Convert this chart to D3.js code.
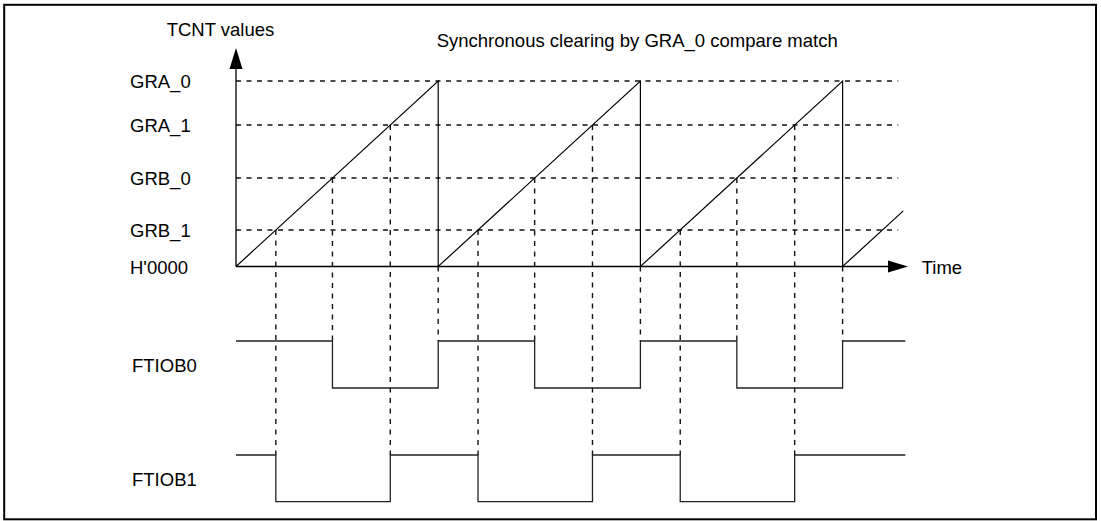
<!DOCTYPE html>
<html>
<head>
<meta charset="utf-8">
<script src="https://cdn.jsdelivr.net/npm/d3@7"></script>
<style>
  html, body { margin: 0; padding: 0; background: #fff; }
  svg { display: block; }
  text { font-family: "Liberation Sans", Arial, sans-serif; font-size: 18.5px; fill: #000; }
</style>
</head>
<body>
<svg id="chart" width="1101" height="521"></svg>
<script>
// ---- data ----
const registerNames = ["GRA_0", "GRA_1", "GRB_0", "GRB_1"];
const registerValues = [1.0, 0.763, 0.477, 0.197]; // fraction of GRA_0
const zeroLabel = "H'0000";
// TCNT counter (time in periods, value as fraction of GRA_0)
const counterTimes  = [0, 1, 1, 2, 2, 3, 3, 3.3];
const counterValues = [0, 1, 0, 1, 0, 1, 0, 0.3];
// output waveforms (transition times, level after transition)
const signalNames = ["FTIOB0", "FTIOB1"];
const ftiob0Times  = [0, 0.477, 1, 1.477, 2, 2.477, 3, 3.31];
const ftiob0Levels = [1, 0, 1, 0, 1, 0, 1, 1];
const ftiob1Times  = [0, 0.197, 0.763, 1.197, 1.763, 2.197, 2.763, 3.31];
const ftiob1Levels = [1, 0, 1, 0, 1, 0, 1, 1];
// compare-match instants: [time, register index, signal index the guide runs to]
const matchTimes    = [0.197, 0.477, 0.763, 1, 1.197, 1.477, 1.763, 2, 2.197, 2.477, 2.763, 3];
const matchRegister = [3, 2, 1, -1, 3, 2, 1, -1, 3, 2, 1, -1]; // -1 = H'0000 (clear)
const matchSignal   = [1, 0, 1, 0, 1, 0, 1, 0, 1, 0, 1, 0];
const titleText = "Synchronous clearing by GRA_0 compare match";
const yAxisTitle = "TCNT values";
const xAxisTitle = "Time";
const gridEnd = 3.275;

// ---- drawing ----
const svg = d3.select("#chart");
const x = d3.scaleLinear().domain([0, 3]).range([236, 842.6]);
const y = d3.scaleLinear().domain([0, 1]).range([266.5, 81]);
const sigY = [
  d3.scaleLinear().domain([0, 1]).range([388, 341]),
  d3.scaleLinear().domain([0, 1]).range([501.7, 455])
];

// border
svg.append("rect").attr("x", 4.2).attr("y", 4.8).attr("width", 1091.8).attr("height", 514.5)
  .attr("fill", "none").attr("stroke", "#000").attr("stroke-width", 2);

const dash = "5,5.5";
// horizontal reference lines
svg.append("g").selectAll("line").data(registerValues).join("line")
  .attr("x1", x(0)).attr("x2", x(gridEnd))
  .attr("y1", d => y(d)).attr("y2", d => y(d))
  .attr("stroke", "#111").attr("stroke-width", 1.4).attr("stroke-dasharray", dash);

// vertical guide lines
svg.append("g").selectAll("line").data(matchTimes).join("line")
  .attr("x1", d => x(d)).attr("x2", d => x(d))
  .attr("y1", (d, i) => matchRegister[i] < 0 ? y(0) : y(registerValues[matchRegister[i]]))
  .attr("y2", (d, i) => sigY[matchSignal[i]](1))
  .attr("stroke", "#111").attr("stroke-width", 1.4).attr("stroke-dasharray", dash);

// axes
const ax = svg.append("g").attr("stroke", "#000").attr("stroke-width", 1.3);
ax.append("line").attr("x1", x(0)).attr("x2", x(0)).attr("y1", y(0)).attr("y2", 68);
ax.append("line").attr("x1", x(0)).attr("x2", 889).attr("y1", y(0)).attr("y2", y(0));
svg.append("path").attr("d", `M${x(0)},48 L${x(0) - 6.5},69 L${x(0) + 6.5},69 Z`).attr("fill", "#000");
svg.append("path").attr("d", `M908,${y(0)} L888,${y(0) - 6} L888,${y(0) + 6} Z`).attr("fill", "#000");

// counter sawtooth
const counterPts = counterTimes.map((t, i) => [t, counterValues[i]]);
svg.append("path").datum(counterPts)
  .attr("d", d3.line().x(d => x(d[0])).y(d => y(d[1])))
  .attr("fill", "none").attr("stroke", "#000").attr("stroke-width", 1.2);

// waveforms
const waves = [
  ftiob0Times.map((t, i) => [t, ftiob0Levels[i]]),
  ftiob1Times.map((t, i) => [t, ftiob1Levels[i]])
];
waves.forEach((w, k) => {
  svg.append("path").datum(w)
    .attr("d", d3.line().curve(d3.curveStepAfter).x(d => x(d[0])).y(d => sigY[k](d[1])))
    .attr("fill", "none").attr("stroke", "#222").attr("stroke-width", 1.3);
});

// texts
svg.append("text").attr("x", 166.7).attr("y", 36).text(yAxisTitle);
svg.append("text").attr("x", 436.7).attr("y", 46.7).text(titleText);
svg.append("text").attr("x", 921.7).attr("y", 274).text(xAxisTitle);
svg.append("g").selectAll("text").data(registerNames).join("text")
  .attr("x", 130).attr("y", (d, i) => y(registerValues[i]) + 7).text(d => d);
svg.append("text").attr("x", 130).attr("y", y(0) + 7).text(zeroLabel);
svg.append("g").selectAll("text").data(signalNames).join("text")
  .attr("x", 132).attr("y", (d, i) => (sigY[i](0) + sigY[i](1)) / 2 + 7.5).text(d => d);
</script>
</body>
</html>
